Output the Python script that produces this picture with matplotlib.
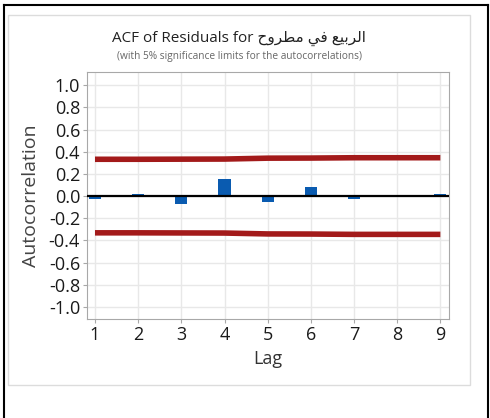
import numpy as np
import matplotlib.pyplot as plt
from matplotlib.lines import Line2D
from matplotlib.patches import Rectangle

plt.rcParams["font.family"] = ["Open Sans", "DejaVu Sans"]

lags = [1, 2, 3, 4, 5, 6, 7, 8, 9]
acf = [-0.025, 0.02, -0.07, 0.15, -0.05, 0.08, -0.025, -0.005, 0.015]
upper_limit = [0.332, 0.332, 0.333, 0.334, 0.342, 0.343, 0.346, 0.346, 0.346]
lower_limit = [-v for v in upper_limit]
yticks = [-1.0, -0.8, -0.6, -0.4, -0.2, 0.0, 0.2, 0.4, 0.6, 0.8, 1.0]

# series name in Arabic, pre-shaped presentation forms in display order
series_name = "\ufea1\ufeed\ufeae\ufec4\ufee3 \ufef2\ufed3 \ufeca\ufef4\ufe91\ufeae\ufedf\ufe8d"

W, H = 490, 418
fig = plt.figure(figsize=(W / 100, H / 100), dpi=100)

# black frame (left, top, right) and light panel box
frame = dict(transform=fig.transFigure, color="black", lw=1.5)
fig.add_artist(Line2D([4 / W, 4 / W], [0, 1 - 5 / H], **frame))
fig.add_artist(Line2D([4 / W, 488 / W], [1 - 5 / H, 1 - 5 / H], **frame))
fig.add_artist(Line2D([488 / W, 488 / W], [0, 1 - 5 / H], **frame))
fig.add_artist(Rectangle((8 / W, 1 - 385 / H), 462 / W, 370 / H,
                         transform=fig.transFigure, fill=False,
                         edgecolor="#dcdcdc", lw=1))

ax = fig.add_axes([87 / W, 1 - 319 / H, 362 / W, 247 / H])
ax.bar(lags, acf, width=0.28, color="#0a5bb0", zorder=3)
ax.axhline(0, color="black", lw=1.6, zorder=4)
ax.plot(lags, upper_limit, color="#a31a1a", lw=4, solid_capstyle="butt", zorder=3)
ax.plot(lags, lower_limit, color="#a31a1a", lw=4, solid_capstyle="butt", zorder=3)

ax.set_xlim(0.815, 9.2)
ax.set_ylim(-1.11, 1.12)
ax.set_xticks(lags)
ax.set_yticks(yticks)
ax.set_yticklabels([f"{v:.1f}" if v != 0 else "0.0" for v in yticks])
ax.grid(True, color="#e8e8e8", lw=1, zorder=0)
ax.set_axisbelow(True)
for s in ax.spines.values():
    s.set_color("#a8a8a8")
ax.tick_params(colors="#a8a8a8", labelcolor="#1a1a1a", labelsize=13, length=3, pad=2)
ax.set_xlabel("Lag", fontsize=13, color="#333333", labelpad=4)
ax.set_ylabel("Autocorrelation", fontsize=14, color="#444444", labelpad=6)

fig.text(239 / W, 1 - 38 / H, "ACF of Residuals for " + series_name,
         ha="center", va="center", fontsize=11, color="#222222")
fig.text(239 / W, 1 - 56 / H,
         "(with 5% significance limits for the autocorrelations)",
         ha="center", va="center", fontsize=7.3, color="#666666")

fig.savefig("out.png", dpi=100)
